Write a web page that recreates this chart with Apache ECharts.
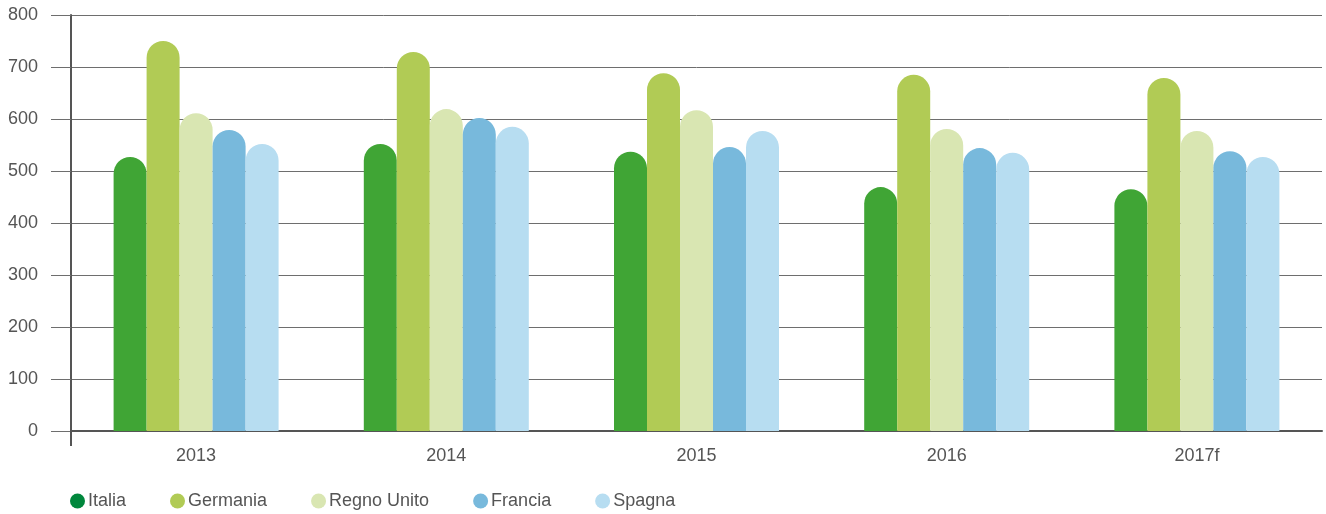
<!DOCTYPE html>
<html><head><meta charset="utf-8">
<script src="https://cdn.jsdelivr.net/npm/echarts@6/dist/echarts.min.js"></script>
<style>html,body{margin:0;padding:0;background:#fff}#c{width:1326px;height:514px}</style>
</head><body><div id="c"></div>
<script>
const categories = ['2013','2014','2015','2016','2017f'];
const seriesNames = ['Italia','Germania','Regno Unito','Francia','Spagna'];
const italia = [527, 552, 537, 469, 465];
const germania = [750, 729, 688, 685, 679];
const regnoUnito = [611, 619, 617, 581, 577];
const francia = [579, 602, 546, 544, 538];
const spagna = [552, 585, 577, 535, 527];
const yTicks = [0,100,200,300,400,500,600,700,800];

const values = [italia, germania, regnoUnito, francia, spagna];
const colors = ['#40a535','#b1cb55','#d9e6b2','#78b9dc','#b7ddf1'];
const legendColors = ['#00873c','#b1cb55','#d9e6b2','#78b9dc','#b7ddf1'];
const font = 'Liberation Sans';
const chart = echarts.init(document.getElementById('c'));
chart.setOption({
  animation:false,
  grid:{left:71, top:15, width:1251, height:416, containLabel:false},
  legend:{
    left:65, top:487, icon:'circle', itemWidth:15, itemHeight:15, itemGap:44,
    textStyle:{fontFamily:font, fontSize:18, color:'#555', padding:[0,0,0,-2]},
    data: seriesNames.map((n,i)=>({name:n, itemStyle:{color:legendColors[i]}}))
  },
  xAxis:[{
    type:'category', data:categories, boundaryGap:true,
    axisLine:{lineStyle:{color:'#555', width:2}},
    axisTick:{show:false},
    axisLabel:{fontFamily:font, fontSize:18, color:'#555', margin:16}
  },{
    type:'value', min:0, max:1, position:'bottom',
    axisLine:{show:false}, axisLabel:{show:false}, splitLine:{show:false},
    axisTick:{show:true, length:15, customValues:[0], lineStyle:{color:'#555', width:2}}
  }],
  yAxis:{
    type:'value', min:0, max:800, interval:100,
    axisLine:{show:true, lineStyle:{color:'#555', width:2}},
    axisTick:{show:true, length:20, lineStyle:{color:'#6e6e6e'}},
    axisLabel:{fontFamily:font, fontSize:18, color:'#555', margin:33,
      formatter:(v)=> yTicks.includes(v) ? String(v) : ''},
    splitLine:{lineStyle:{color:'#6e6e6e', width:1}}
  },
  series: seriesNames.map((n,i)=>({
    name:n, type:'bar', data:values[i], barWidth:33, barGap:'0%',
    itemStyle:{color:colors[i], borderRadius:[16.5,16.5,0,0]}
  }))
});
</script></body></html>
